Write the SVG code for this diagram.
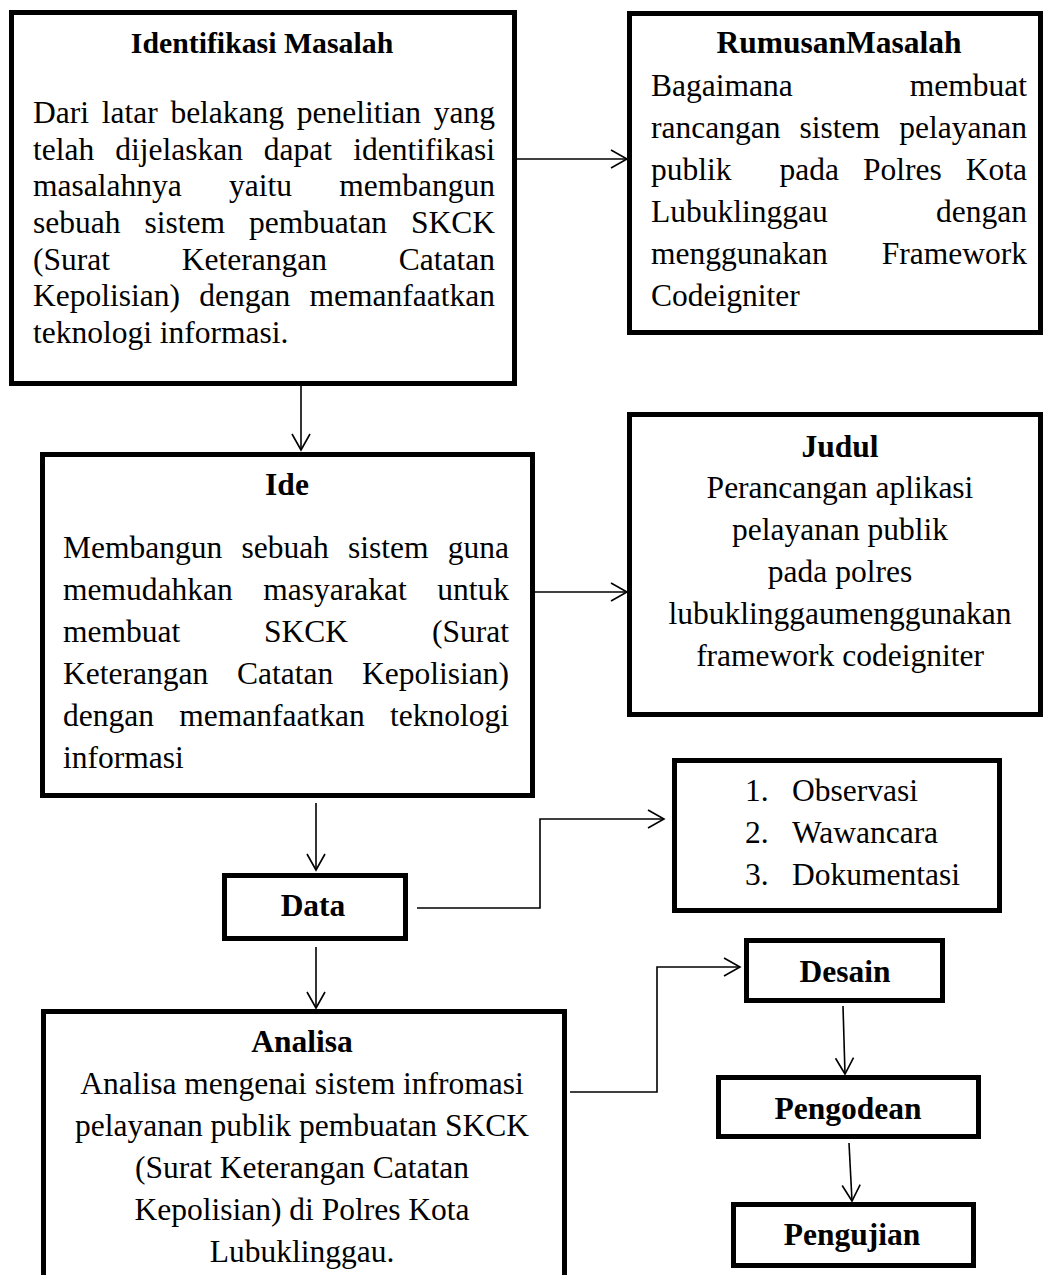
<svg xmlns="http://www.w3.org/2000/svg" width="1045" height="1275" viewBox="0 0 1045 1275">
<style>
.box{fill:#fff;stroke:#000;stroke-width:5}
.t{font-family:"Liberation Serif","Times New Roman",serif;font-size:31.5px;fill:#000}
.b{font-weight:bold}
.c{text-anchor:middle}
.e{text-anchor:end}
.con{fill:none;stroke:#000;stroke-width:1.6}
</style>
<defs>
<marker id="arr" markerUnits="userSpaceOnUse" viewBox="-20 -12 24 24" markerWidth="24" markerHeight="24" refX="0" refY="0" orient="auto" overflow="visible">
<path d="M-16,-9 L0,0 L-16,9" fill="none" stroke="#000" stroke-width="1.6"/>
</marker>
</defs>
<rect width="1045" height="1275" fill="#fff"/>

<g id="connectors">
<line class="con" x1="517" y1="159" x2="627" y2="159" marker-end="url(#arr)"/>
<line class="con" x1="301" y1="386" x2="301" y2="450" marker-end="url(#arr)"/>
<line class="con" x1="535" y1="592" x2="627" y2="592" marker-end="url(#arr)"/>
<line class="con" x1="316" y1="803" x2="316" y2="870" marker-end="url(#arr)"/>
<polyline class="con" points="417,908 540,908 540,819 664,819" marker-end="url(#arr)"/>
<line class="con" x1="316" y1="947" x2="316" y2="1008" marker-end="url(#arr)"/>
<polyline class="con" points="570,1092 657,1092 657,967 740,967" marker-end="url(#arr)"/>
<line class="con" x1="843" y1="1006" x2="845" y2="1074" marker-end="url(#arr)"/>
<line class="con" x1="849" y1="1143" x2="852" y2="1201" marker-end="url(#arr)"/>
</g>

<g id="identifikasi">
<rect class="box" x="11.5" y="12.5" width="503" height="371"/>
<text class="t b c" x="262" y="53" style="font-size:29.8px">Identifikasi Masalah</text>
<text class="t" x="33" y="123" word-spacing="4.85">Dari latar belakang penelitian <tspan x="495" class="e">yang</tspan></text>
<text class="t" x="33" y="160" word-spacing="13.1">telah dijelaskan dapat <tspan x="495" class="e">identifikasi</tspan></text>
<text class="t" x="33" y="196" word-spacing="39.4">masalahnya yaitu <tspan x="495" class="e">membangun</tspan></text>
<text class="t" x="33" y="233" word-spacing="16.1">sebuah sistem pembuatan <tspan x="495" class="e">SKCK</tspan></text>
<text class="t" x="33" y="270" word-spacing="63.9">(Surat Keterangan <tspan x="495" class="e">Catatan</tspan></text>
<text class="t" x="33" y="306" word-spacing="11.45">Kepolisian) dengan <tspan x="495" class="e">memanfaatkan</tspan></text>
<text class="t" x="33" y="343">teknologi informasi.</text>
</g>

<g id="rumusan">
<rect class="box" x="629.5" y="13.5" width="411" height="319"/>
<text class="t b c" x="839" y="53">RumusanMasalah</text>
<text class="t" x="651" y="96">Bagaimana<tspan x="1027" class="e">membuat</tspan></text>
<text class="t" x="651" y="138" word-spacing="11.3">rancangan sistem <tspan x="1027" class="e">pelayanan</tspan></text>
<text class="t" x="651" y="180">publik<tspan x="779.5" word-spacing="16.1">pada Polres </tspan><tspan x="1027" class="e">Kota</tspan></text>
<text class="t" x="651" y="222">Lubuklinggau<tspan x="1027" class="e">dengan</tspan></text>
<text class="t" x="651" y="264">menggunakan<tspan x="1027" class="e">Framework</tspan></text>
<text class="t" x="651" y="306">Codeigniter</text>
</g>

<g id="ide">
<rect class="box" x="42.5" y="454.5" width="490" height="341"/>
<text class="t b c" x="287" y="495">Ide</text>
<text class="t" x="63" y="558" word-spacing="11.3">Membangun sebuah sistem <tspan x="509" class="e">guna</tspan></text>
<text class="t" x="63" y="600" word-spacing="22.7">memudahkan masyarakat <tspan x="509" class="e">untuk</tspan></text>
<text class="t" x="63" y="642" word-spacing="76">membuat SKCK <tspan x="509" class="e">(Surat</tspan></text>
<text class="t" x="63" y="684" word-spacing="20.9">Keterangan Catatan <tspan x="509" class="e">Kepolisian)</tspan></text>
<text class="t" x="63" y="726" word-spacing="17.4">dengan memanfaatkan <tspan x="509" class="e">teknologi</tspan></text>
<text class="t" x="63" y="768">informasi</text>
</g>

<g id="judul">
<rect class="box" x="629.5" y="414.5" width="411" height="300"/>
<text class="t b c" x="840" y="457">Judul</text>
<text class="t c" x="840" y="498">Perancangan aplikasi</text>
<text class="t c" x="840" y="540">pelayanan publik</text>
<text class="t c" x="840" y="582">pada polres</text>
<text class="t c" x="840" y="624">lubuklinggaumenggunakan</text>
<text class="t c" x="840" y="666">framework codeigniter</text>
</g>

<g id="data">
<rect class="box" x="224.5" y="875.5" width="181" height="63"/>
<text class="t b c" x="313" y="916">Data</text>
</g>

<g id="metode">
<rect class="box" x="674.5" y="760.5" width="325" height="150"/>
<text class="t" x="745" y="801">1.<tspan x="792">Observasi</tspan></text>
<text class="t" x="745" y="843">2.<tspan x="792">Wawancara</tspan></text>
<text class="t" x="745" y="885">3.<tspan x="792">Dokumentasi</tspan></text>
</g>

<g id="analisa">
<rect class="box" x="43.5" y="1011.5" width="521" height="290"/>
<text class="t b c" x="302" y="1052">Analisa</text>
<text class="t c" x="302" y="1094">Analisa mengenai sistem infromasi</text>
<text class="t c" x="302" y="1136">pelayanan publik pembuatan SKCK</text>
<text class="t c" x="302" y="1178">(Surat Keterangan Catatan</text>
<text class="t c" x="302" y="1220">Kepolisian) di Polres Kota</text>
<text class="t c" x="302" y="1262">Lubuklinggau.</text>
</g>

<g id="desain">
<rect class="box" x="746.5" y="940.5" width="196" height="60"/>
<text class="t b c" x="845" y="982">Desain</text>
</g>

<g id="pengodean">
<rect class="box" x="718.5" y="1077.5" width="260" height="59"/>
<text class="t b c" x="848" y="1119">Pengodean</text>
</g>

<g id="pengujian">
<rect class="box" x="733.5" y="1204.5" width="240" height="61"/>
<text class="t b c" x="852" y="1245">Pengujian</text>
</g>
</svg>
